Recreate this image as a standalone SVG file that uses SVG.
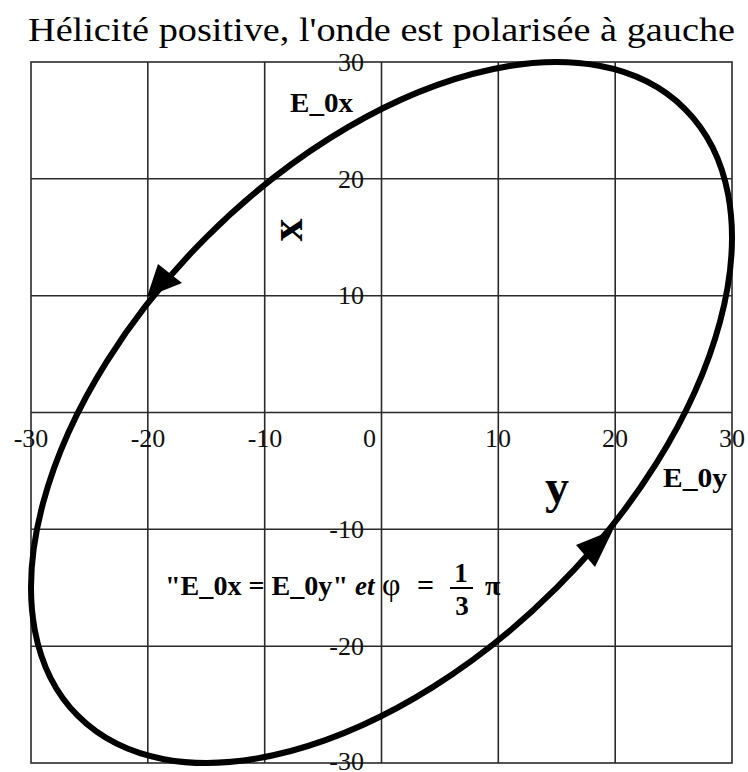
<svg xmlns="http://www.w3.org/2000/svg" width="748" height="772" viewBox="0 0 748 772">
<style>
.grid{stroke:#2a2a2a;stroke-width:1.6;fill:none}
.tick{font-family:"Liberation Serif","Times New Roman",serif;font-size:26px;fill:#111}
.lbl{font-family:"Liberation Serif","Times New Roman",serif;font-weight:bold;fill:#000}
.curve{fill:none;stroke:#000;stroke-width:6}
.head{fill:#000}
</style>
<rect width="748" height="772" fill="#fff"/>
<text id="title" x="28" y="41" textLength="707" lengthAdjust="spacingAndGlyphs" font-family="Liberation Serif, Times New Roman, serif" font-size="33" fill="#000">Hélicité positive, l'onde est polarisée à gauche</text>
<g id="grid" class="grid">
<rect x="31" y="62" width="701" height="701"/>
<line x1="147.8" y1="62" x2="147.8" y2="763"/>
<line x1="264.7" y1="62" x2="264.7" y2="763"/>
<line x1="381.5" y1="62" x2="381.5" y2="763"/>
<line x1="498.3" y1="62" x2="498.3" y2="763"/>
<line x1="615.2" y1="62" x2="615.2" y2="763"/>
<line x1="31" y1="178.8" x2="732" y2="178.8"/>
<line x1="31" y1="295.7" x2="732" y2="295.7"/>
<line x1="31" y1="412.5" x2="732" y2="412.5"/>
<line x1="31" y1="529.3" x2="732" y2="529.3"/>
<line x1="31" y1="646.2" x2="732" y2="646.2"/>
</g>
<g id="xticks" class="tick" text-anchor="middle">
<text x="31" y="447">-30</text>
<text x="148" y="447">-20</text>
<text x="265" y="447">-10</text>
<text x="376" y="447" text-anchor="end">0</text>
<text x="498" y="447">10</text>
<text x="615" y="447">20</text>
<text x="732" y="447">30</text>
</g>
<g id="yticks" class="tick" text-anchor="end">
<text x="364" y="71">30</text>
<text x="364" y="188">20</text>
<text x="364" y="304">10</text>
<text x="364" y="538">-10</text>
<text x="364" y="655">-20</text>
<text x="364" y="770">-30</text>
</g>
<g id="connectors">
<ellipse class="curve" cx="381.5" cy="412.5" rx="429.2" ry="247.8" transform="rotate(-45 381.5 412.5)"/>
<polygon class="head" points="147,297 158,264 182,283"/>
<polygon class="head" points="613,530 576,545 595,567"/>
</g>
<g id="label-E0x"><text class="lbl" x="290" y="112" font-size="28" textLength="63" lengthAdjust="spacingAndGlyphs">E_0x</text></g>
<g id="label-E0y"><text class="lbl" x="663" y="487" font-size="28" textLength="64" lengthAdjust="spacingAndGlyphs">E_0y</text></g>
<g id="label-x"><text class="lbl" font-size="46" text-anchor="middle" transform="translate(291 230) rotate(-90)" x="0" y="10.5">x</text></g>
<g id="label-y"><text class="lbl" x="557" y="503" font-size="48" text-anchor="middle">y</text></g>
<g id="formula">
<text class="lbl" x="165" y="595" font-size="27" textLength="183" lengthAdjust="spacingAndGlyphs">"E_0x = E_0y"</text>
<text class="lbl" x="355" y="595" font-size="27" font-style="italic">et</text>
<text x="382" y="595" font-size="32" font-family="Liberation Serif, Times New Roman, serif" fill="#000">φ</text>
<text class="lbl" x="417" y="595" font-size="30">=</text>
<text class="lbl" x="461" y="582" font-size="27" text-anchor="middle">1</text>
<line x1="450" y1="588" x2="473" y2="588" stroke="#000" stroke-width="2"/>
<text class="lbl" x="462" y="615" font-size="27" text-anchor="middle">3</text>
<text class="lbl" x="485" y="595" font-size="28">π</text>
</g>
</svg>
